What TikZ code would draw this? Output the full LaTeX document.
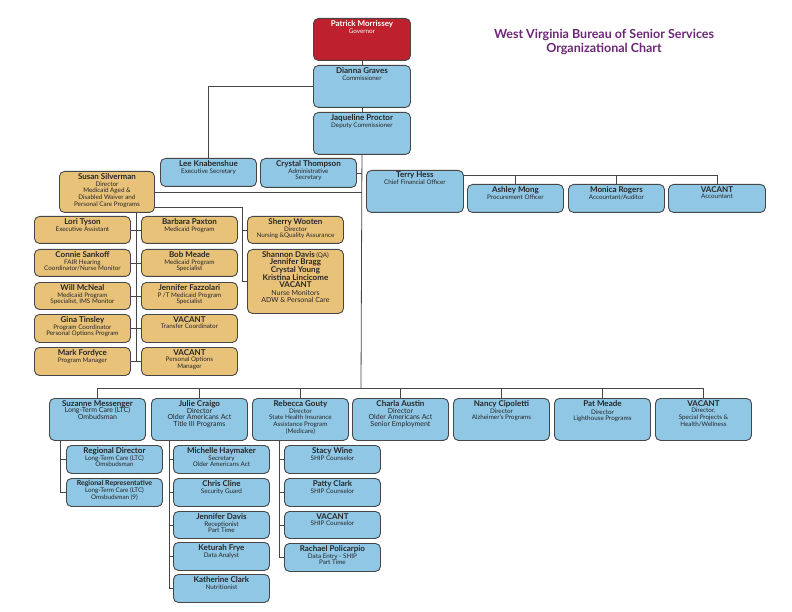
\documentclass[tikz,border=0pt]{standalone}
\usepackage{fontspec}
\setmainfont{Lato}
\usepackage{tikz}
\usetikzlibrary{positioning}

\definecolor{bsblue}{RGB}{143,199,229}
\definecolor{bstan}{RGB}{233,194,122}
\definecolor{bsred}{RGB}{190,32,46}
\definecolor{bsline}{RGB}{70,70,70}
\definecolor{bspurple}{RGB}{108,38,118}

\newcommand\nm{\fontsize{8}{8.4}\selectfont\bfseries}
\newcommand\orgbox[7]{%
  \node[box,#6,minimum width=#4,minimum height=#5,anchor=north west] (#1) at (#2,#3) {};
  \node[txt,#6,below=2pt of #1.north] {#7};}

\begin{document}
\begin{tikzpicture}[x=1pt,y=-1pt,
    box/.style={draw=bsline,line width=0.9pt,rounded corners=5pt,inner sep=0pt},
    sblue/.style={fill=bsblue},
    stan/.style={fill=bstan},
    sred/.style={fill=bsred,text=white},
    txt/.style={align=center,inner sep=0pt,text=black!85,font=\fontsize{6.3}{6.9}\selectfont},
    con/.style={draw=bsline,line width=0.8pt}]
    \useasboundingbox (0,0) rectangle (792,612);

    \node[align=center,text=bspurple,font=\fontsize{12.5}{14}\selectfont\bfseries] (title) at (604,42) {West Virginia Bureau of Senior Services\\Organizational Chart};

    % top
    \orgbox{gov}{313}{18}{97pt}{42pt}{sred}{{\nm Patrick Morrissey}\\Governor}
    \orgbox{comm}{313}{65}{97pt}{42pt}{sblue}{{\nm Dianna Graves}\\Commissioner}
    \orgbox{dep}{313}{112}{97pt}{42pt}{sblue}{{\nm Jaqueline Proctor}\\Deputy Commissioner}
    \orgbox{lee}{160}{158}{96pt}{28pt}{sblue}{{\nm Lee Knabenshue}\\Executive Secretary}
    \orgbox{crys}{260}{158}{96pt}{29pt}{sblue}{{\nm Crystal Thompson}\\Administrative\\Secretary}
    \orgbox{cfo}{366}{170}{97pt}{42pt}{sblue}{{\nm Terry Hess}\\Chief Financial Officer}
    \orgbox{ashley}{467}{184}{96pt}{28pt}{sblue}{{\nm Ashley Mong}\\Procurement Officer}
    \orgbox{monica}{568}{184}{96pt}{28pt}{sblue}{{\nm Monica Rogers}\\Accountant/Auditor}
    \orgbox{acct}{668}{184}{97pt}{28pt}{sblue}{{\nm VACANT}\\Accountant}

    % medicaid waiver
    \orgbox{susan}{59}{171}{95pt}{41pt}{stan}{{\nm Susan Silverman}\\Director\\Medicaid Aged \&\\Disabled Waiver and\\Personal Care Programs}
    \orgbox{lori}{34}{216}{96pt}{27pt}{stan}{{\nm Lori Tyson}\\Executive Assistant}
    \orgbox{barb}{141}{216}{96pt}{27pt}{stan}{{\nm Barbara Paxton}\\Medicaid Program}
    \orgbox{connie}{34}{249}{96pt}{27pt}{stan}{{\nm Connie Sankoff}\\FAIR Hearing\\Coordinator/Nurse Monitor}
    \orgbox{bob}{141}{249}{96pt}{27pt}{stan}{{\nm Bob Meade}\\Medicaid Program\\Specialist}
    \orgbox{will}{34}{282}{96pt}{27pt}{stan}{{\nm Will McNeal}\\Medicaid Program\\Specialist, IMS Monitor}
    \orgbox{jfaz}{141}{282}{96pt}{27pt}{stan}{{\nm Jennifer Fazzolari}\\P /T Medicaid Program\\Specialist}
    \orgbox{gina}{34}{314}{96pt}{28pt}{stan}{{\nm Gina Tinsley}\\Program Coordinator\\Personal Options Program}
    \orgbox{tcoord}{141}{314}{96pt}{28pt}{stan}{{\nm VACANT}\\Transfer Coordinator}
    \orgbox{mark}{34}{347}{96pt}{28pt}{stan}{{\nm Mark Fordyce}\\Program Manager}
    \orgbox{pom}{141}{347}{96pt}{28pt}{stan}{{\nm VACANT}\\Personal Options\\Manager}
    \orgbox{sherry}{247}{216}{96pt}{27pt}{stan}{{\nm Sherry Wooten}\\Director\\Nursing \&Quality Assurance}
    \orgbox{nurse}{247}{249}{96pt}{64pt}{stan}{{\nm Shannon Davis} (QA)\\{\nm Jennifer Bragg}\\{\nm Crystal Young}\\{\nm Kristina Lincicome}\\{\nm VACANT}\\[1pt]{\fontsize{7}{8.5}\selectfont Nurse Monitors}\\{\fontsize{7}{8.5}\selectfont ADW \& Personal Care}}

    % bottom row
    \orgbox{suz}{49}{398}{96pt}{42pt}{sblue}{{\nm Suzanne Messenger}\\{\fontsize{7}{7.8}\selectfont Long-Term Care (LTC)}\\{\fontsize{7}{7.8}\selectfont Ombudsman}}
    \orgbox{julie}{151}{398}{96pt}{42pt}{sblue}{{\nm Julie Craigo}\\{\fontsize{7}{7.8}\selectfont Director}\\{\fontsize{7}{7.8}\selectfont Older Americans Act}\\{\fontsize{7}{7.8}\selectfont Title III Programs}}
    \orgbox{reb}{252}{398}{96pt}{42pt}{sblue}{{\nm Rebecca Gouty}\\Director\\State Health Insurance\\Assistance Program\\(Medicare)}
    \orgbox{charla}{352}{398}{96pt}{42pt}{sblue}{{\nm Charla Austin}\\{\fontsize{7}{7.8}\selectfont Director}\\{\fontsize{7}{7.8}\selectfont Older Americans Act}\\{\fontsize{7}{7.8}\selectfont Senior Employment}}
    \orgbox{nancy}{453}{398}{96pt}{42pt}{sblue}{{\nm Nancy Cipoletti}\\Director\\Alzheimer's Programs}
    \orgbox{pat}{554}{398}{96pt}{42pt}{sblue}{{\nm Pat Meade}\\[1pt]Director\\Lighthouse Programs}
    \orgbox{spec}{655}{398}{96pt}{42pt}{sblue}{{\nm VACANT}\\Director,\\Special Projects \&\\Health/Wellness}

    \orgbox{rdir}{66}{445}{96pt}{28pt}{sblue}{{\nm Regional Director}\\Long-Term Care (LTC)\\Omsbudsman}
    \orgbox{rrep}{66}{478}{96pt}{28pt}{sblue}{{\fontsize{7}{7.5}\selectfont\bfseries Regional Representative}\\Long-Term Care (LTC)\\Omsbudsman (9)}
    \orgbox{mich}{173}{445}{96pt}{28pt}{sblue}{{\nm Michelle Haymaker}\\Secretary\\Older Americans Act}
    \orgbox{chris}{173}{478}{96pt}{28pt}{sblue}{{\nm Chris Cline}\\Security Guard}
    \orgbox{jdav}{173}{511}{96pt}{27pt}{sblue}{{\nm Jennifer Davis}\\Receptionist\\Part Time}
    \orgbox{ket}{173}{542}{96pt}{28pt}{sblue}{{\nm Keturah Frye}\\Data Analyst}
    \orgbox{kath}{173}{574}{96pt}{28pt}{sblue}{{\nm Katherine Clark}\\Nutritionist}
    \orgbox{stacy}{284}{445}{96pt}{28pt}{sblue}{{\nm Stacy Wine}\\SHIP Counselor}
    \orgbox{patty}{284}{478}{96pt}{28pt}{sblue}{{\nm Patty Clark}\\SHIP Counselor}
    \orgbox{ship}{284}{511}{96pt}{27pt}{sblue}{{\nm VACANT}\\SHIP Counselor}
    \orgbox{rach}{284}{543}{96pt}{28pt}{sblue}{{\nm Rachael Policarpio}\\Data Entry - SHIP\\Part Time}

    % connectors
    \coordinate (bus) at (361,388);
    \coordinate (sv) at (136,361);
    \coordinate (sw) at (242,282);
    \coordinate (tb) at ([yshift=-5pt]cfo.north east);
    \draw[con] (gov.south) -- (comm.north);
    \draw[con] (comm.south) -- (dep.north);
    \draw[con] (comm.west) -| (lee.north);
    \draw[con] (dep.south) -- (bus);
    \draw[con] (crys.east) -- (crys.east -| dep.south);
    \draw[con] (susan.east) -- (susan.east -| dep.south);
    \draw[con] (tb) -| (acct.north);
    \foreach \n in {ashley,monica} \draw[con] (\n.north) -- (\n.north |- tb);
    \draw[con] (sv |- susan.south) -- (sv);
    \foreach \l/\r in {lori/barb,connie/bob,will/jfaz,gina/tcoord,mark/pom}
      \draw[con] (\l.east) -- (\r.west);
    \draw[con] ([yshift=-15.5pt]susan.east) -| (sw |- nurse.west) -- (nurse.west);
    \draw[con] (sherry.west) -- (sherry.west -| sw);
    \draw[con] (suz.north) |- (spec.north |- bus) -- (spec.north);
    \foreach \n in {julie,reb,charla,nancy,pat} \draw[con] (\n.north) -- (\n.north |- bus);
    \foreach \n in {rdir,rrep} \draw[con] ([xshift=-37pt]suz.south) |- (\n.west);
    \foreach \n in {mich,chris,jdav,ket,kath} \draw[con] ([xshift=-30.5pt]julie.south) |- (\n.west);
    \foreach \n in {stacy,patty,ship,rach} \draw[con] ([xshift=-21.5pt]reb.south) |- (\n.west);
\end{tikzpicture}
\end{document}
